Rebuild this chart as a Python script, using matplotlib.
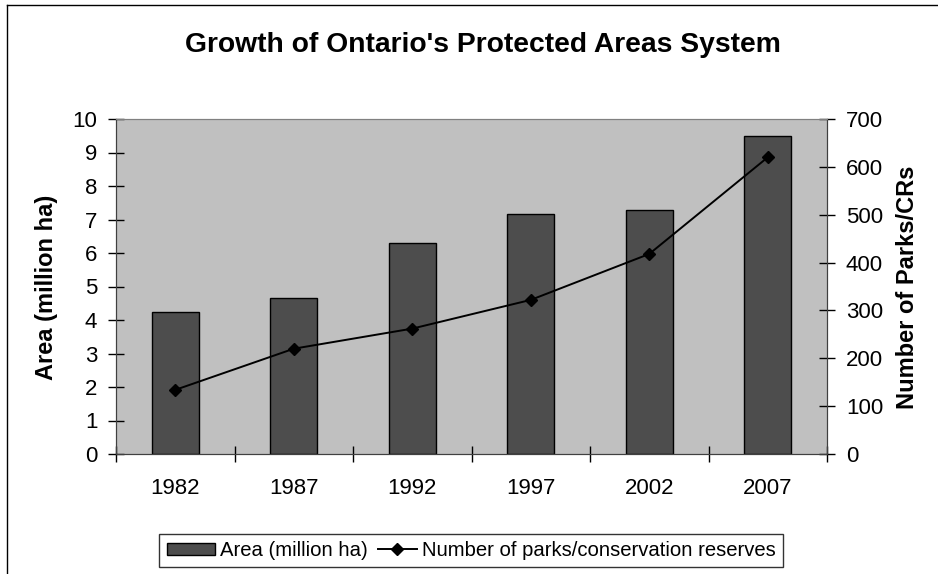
import matplotlib.pyplot as plt
import numpy as np
from matplotlib.lines import Line2D
from matplotlib.legend_handler import HandlerLine2D

plt.rcParams['font.family'] = ['Liberation Sans', 'DejaVu Sans']

# Data
years = ['1982', '1987', '1992', '1997', '2002', '2007']
area_mha = [4.25, 4.67, 6.3, 7.17, 7.27, 9.5]
num_parks = [134, 220, 262, 322, 418, 620]

W, H = 938, 574
fig = plt.figure(figsize=(W / 100, H / 100), dpi=100)
# plot area in pixels: x 116..827, y 119..454
ax = fig.add_axes([116 / W, 1 - 454 / H, (827 - 116) / W, (454 - 119) / H])
ax2 = ax.twinx()

x = np.arange(len(years))
bars = ax.bar(x, area_mha, width=0.4, color='#4d4d4d', edgecolor='black',
              linewidth=1.0, label='Area (million ha)', zorder=2)
line, = ax2.plot(x, num_parks, color='black', lw=1.4, marker='D', markersize=6.5,
                 label='Number of parks/conservation reserves', zorder=3)

ax.set_facecolor('#c0c0c0')
ax.set_xlim(-0.5, len(years) - 0.5)
ax.set_ylim(0, 10)
ax.set_yticks(range(0, 11))
ax2.set_ylim(0, 700)
ax2.set_yticks(range(0, 701, 100))

# category boundary ticks, labels centred on the bars
ax.set_xticks(np.arange(-0.5, len(years) + 0.5, 1.0))
ax.set_xticklabels([])
ax.set_xticks(x, minor=True)
ax.set_xticklabels(years, minor=True)
ax.tick_params(axis='x', which='major', direction='inout', length=11, width=1)
ax.tick_params(axis='x', which='minor', length=0, pad=17, labelsize=16)
ax.tick_params(axis='y', direction='inout', length=11, width=1, labelsize=16, pad=8)
ax2.tick_params(axis='y', direction='inout', length=11, width=1, labelsize=16, pad=8)

for a in (ax, ax2):
    a.spines['top'].set_color('#808080')
    a.spines['right'].set_color('#404040')
    a.spines['left'].set_color('#404040')
    a.spines['bottom'].set_color('#404040')

fig.text(47 / W, 1 - 287 / H, 'Area (million ha)', rotation=90, ha='center',
         va='center', fontsize=17, fontweight='bold')
fig.text(907 / W, 1 - 287 / H, 'Number of Parks/CRs', rotation=90, ha='center',
         va='center', fontsize=17, fontweight='bold')

fig.text(483 / W, 1 - 52 / H, "Growth of Ontario's Protected Areas System",
         ha='center', va='baseline', fontsize=20.3, fontweight='bold')

leg = fig.legend([bars, line], ['Area (million ha)', 'Number of parks/conservation reserves'],
                 loc='center', bbox_to_anchor=(471 / W, 1 - 550.5 / H), ncol=2, fontsize=14.6,
                 frameon=True, fancybox=False, edgecolor='black', handlelength=2.4,
                 handleheight=0.55, handletextpad=0.25, columnspacing=0.0, borderpad=0.35,
                 borderaxespad=0, handler_map={line: HandlerLine2D(xpad=0.5)})
leg.get_frame().set_linewidth(1.0)

# chart area border (left and top visible)
fig.add_artist(Line2D([7 / W, 7 / W], [0, 1 - 5 / H], transform=fig.transFigure,
                      color='black', lw=1))
fig.add_artist(Line2D([7 / W, 1], [1 - 5 / H, 1 - 5 / H], transform=fig.transFigure,
                      color='black', lw=1))

fig.savefig('out.png', dpi=100)
